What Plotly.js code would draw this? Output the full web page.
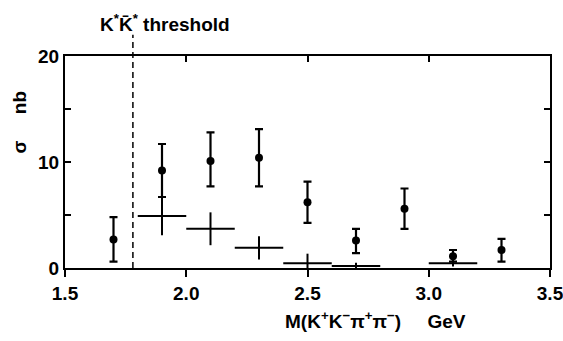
<!DOCTYPE html>
<html>
<head>
<meta charset="utf-8">
<script src="https://cdn.plot.ly/plotly-3.0.1.min.js"></script>
<style>html,body{margin:0;padding:0;background:#fff;}#plot{width:563px;height:341px;}</style>
</head>
<body>
<div id="plot"></div>
<script>
// Measured cross sections (dots with error bars)
const massPts = [1.7, 1.9, 2.1, 2.3, 2.5, 2.7, 2.9, 3.1, 3.3];
const sigmaPts = [2.7, 9.2, 10.1, 10.4, 6.2, 2.6, 5.6, 1.1, 1.7];
const sigmaErrPlus = [2.1, 2.5, 2.7, 2.7, 1.95, 1.1, 1.9, 0.6, 1.05];
const sigmaErrMinus = [2.1, 2.5, 2.4, 2.7, 1.95, 1.2, 1.9, 0.5, 1.1];

// Binned values (crosses)
const massBins = [1.9, 2.1, 2.3, 2.5, 2.7, 3.1];
const sigmaBins = [4.9, 3.7, 1.9, 0.45, 0.2, 0.45];
const sigmaBinErr = [1.8, 1.55, 1.1, 0.9, 0.3, 0.3];
const binHalfWidth = [0.1, 0.1, 0.1, 0.1, 0.1, 0.1];

// Threshold
const thresholdMass = [1.78];
const thresholdLabel = ['K<sup>*</sup>K\u0304<sup>*</sup> threshold'];

// Axis ticks
const xTickVals = [1.5, 2.0, 2.5, 3.0, 3.5];
const xTickText = ['1.5', '2.0', '2.5', '3.0', '3.5'];
const xTopTickVals = [2.0, 2.5, 3.0];
const yTickVals = [0, 10, 20];
const yTickText = ['0', '10', '20'];
const yMinorTickVals = [5, 15];

const FONT = 'Liberation Sans, Arial, sans-serif';

const traces = [
  {
    x: massBins, y: sigmaBins, type: 'scatter', mode: 'markers',
    marker: {size: 1, color: '#000'},
    error_x: {type: 'data', array: binHalfWidth, visible: true, color: '#000', thickness: 2, width: 0},
    error_y: {type: 'data', array: sigmaBinErr, visible: true, color: '#000', thickness: 2, width: 0},
    cliponaxis: false, hoverinfo: 'skip', showlegend: false
  },
  {
    x: massPts, y: sigmaPts, type: 'scatter', mode: 'markers',
    marker: {size: 8, color: '#000'},
    error_y: {type: 'data', symmetric: false, array: sigmaErrPlus, arrayminus: sigmaErrMinus,
              visible: true, color: '#000', thickness: 2.2, width: 4},
    cliponaxis: false, showlegend: false
  },
  {
    x: [1.5], y: [0], xaxis: 'x2', yaxis: 'y', type: 'scatter', mode: 'markers',
    marker: {size: 1, opacity: 0}, hoverinfo: 'skip', showlegend: false
  }
];

const layout = {
  width: 563, height: 341,
  margin: {l: 65, r: 13, t: 56, b: 73},
  paper_bgcolor: '#fff', plot_bgcolor: '#fff',
  font: {family: FONT, color: '#000', size: 19, weight: 'bold'},
  showlegend: false,
  xaxis: {
    range: [1.5, 3.5], tickmode: 'array', tickvals: xTickVals, ticktext: xTickText,
    ticks: 'outside', ticklen: 7, tickwidth: 2, tickcolor: '#000',
    ticklabeloverflow: 'allow',
    showline: true, linecolor: '#000', linewidth: 2, mirror: true,
    showgrid: false, zeroline: false,
    tickfont: {family: FONT, size: 19, color: '#000', weight: 'bold'}
  },
  xaxis2: {
    range: [1.5, 3.5], overlaying: 'x', side: 'top', tickmode: 'array', tickvals: xTopTickVals,
    ticks: 'inside', ticklen: 6, tickwidth: 2, tickcolor: '#000', showticklabels: false,
    showline: false, showgrid: false, zeroline: false
  },
  yaxis: {
    range: [0, 20], tickmode: 'array', tickvals: yTickVals, ticktext: yTickText,
    ticks: 'inside', ticklen: 6, tickwidth: 2, tickcolor: '#000',
    minor: {tickmode: 'array', tickvals: yMinorTickVals, ticks: 'inside', ticklen: 6, tickwidth: 2, tickcolor: '#000', showgrid: false},
    showline: true, linecolor: '#000', linewidth: 2, mirror: 'ticks',
    showgrid: false, zeroline: false,
    tickfont: {family: FONT, size: 19, color: '#000', weight: 'bold'}
  },
  shapes: [{
    type: 'line', xref: 'x', yref: 'paper', x0: thresholdMass[0], x1: thresholdMass[0], y0: 0, y1: 1.1,
    line: {color: '#000', width: 1.5, dash: '6px,4px'}
  }],
  annotations: [
    {
      xref: 'x', yref: 'paper', x: thresholdMass[0], y: 1.1, xanchor: 'center', yanchor: 'bottom',
      xshift: 32, yshift: -2, showarrow: false, text: thresholdLabel[0],
      font: {family: FONT, size: 19, color: '#000', weight: 'bold'}
    },
    {
      xref: 'paper', yref: 'paper', x: 0.641, y: 0, yanchor: 'top', xanchor: 'center', yshift: -38,
      showarrow: false,
      text: 'M(K<sup>+</sup>K<sup>\u2212</sup>\u03c0<sup>+</sup>\u03c0<sup>\u2212</sup>)\u00a0\u00a0\u00a0\u00a0\u00a0GeV',
      font: {family: FONT, size: 19, color: '#000', weight: 'bold'}
    },
    {
      xref: 'paper', yref: 'paper', x: -0.093, y: 0.69, xanchor: 'center', yanchor: 'middle',
      textangle: -90, showarrow: false,
      text: '\u03c3\u00a0\u00a0\u00a0\u00a0\u00a0nb',
      font: {family: FONT, size: 19, color: '#000', weight: 'bold'}
    }
  ]
};

Plotly.newPlot('plot', traces, layout, {displayModeBar: false, staticPlot: true});
</script>
</body>
</html>
